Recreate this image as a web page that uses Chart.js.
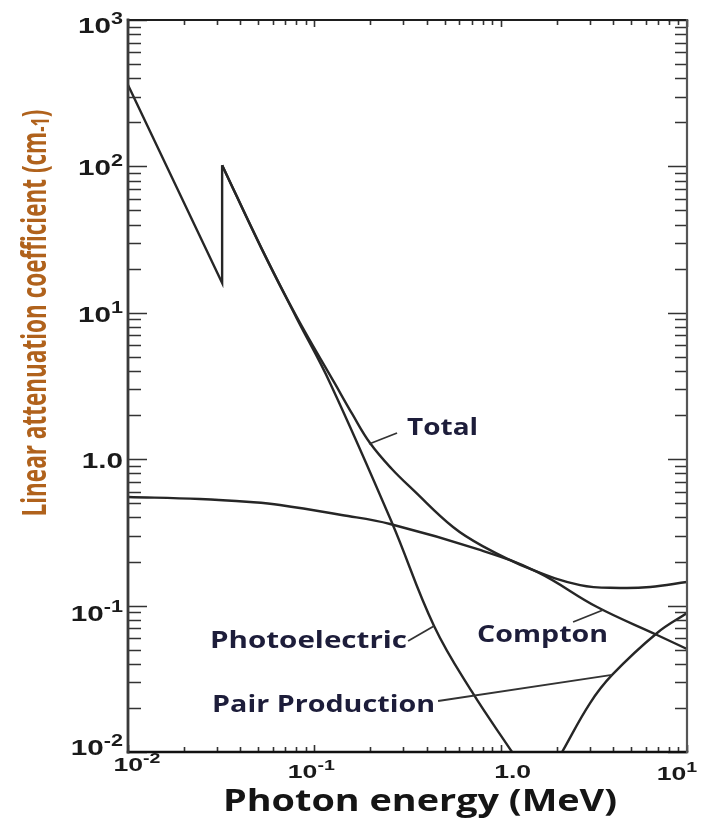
<!DOCTYPE html>
<html>
<head>
<meta charset="utf-8">
<script src="https://cdn.jsdelivr.net/npm/chart.js@4.4.1/dist/chart.umd.min.js"></script>
<style>
  html, body { margin: 0; padding: 0; background: #fff; }
  #wrap { width: 702px; height: 827px; position: relative; }
</style>
</head>
<body>
<div id="wrap"><canvas id="chart"></canvas></div>
<script>
// Photon energy (MeV) and linear attenuation coefficient (cm^-1) for each process
const totalLowEnergy = [0.01, 0.032, 0.032];
const totalLow       = [360, 16.0, 102];

const totalEnergy = [0.032, 0.0524, 0.08, 0.129, 0.16, 0.199, 0.26, 0.339, 0.555, 0.80, 1.44, 2.67, 4.38, 6.34, 10];
const total       = [102, 27.2, 9.5, 3.28, 2.03, 1.29, 0.86, 0.617, 0.344, 0.255, 0.178, 0.138, 0.132, 0.134, 0.145];

const photoEnergy = [0.032, 0.0524, 0.08, 0.1214, 0.2613, 0.439, 0.7023, 1.151];
const photo       = [102, 27.0, 9.3, 3.32, 0.367, 0.0726, 0.0257, 0.01];

const comptonEnergy = [0.01, 0.0243, 0.0452, 0.0654, 0.14, 0.255, 0.775, 1.568, 3.293, 6.91, 10];
const compton       = [0.552, 0.535, 0.510, 0.487, 0.416, 0.361, 0.240, 0.170, 0.0978, 0.063, 0.0505];

const pairEnergy = [2.136, 3.019, 3.963, 6.91, 10];
const pair       = [0.01, 0.0216, 0.0336, 0.065, 0.089];

// Axis tick values and their labels (base, exponent)
const xTickValues = [0.01, 0.1, 1, 10];
const xTickLabels = [['10', '-2'], ['10', '-1'], ['1.0', ''], ['10', '1']];
const yTickValues = [0.01, 0.1, 1, 10, 100, 1000];
const yTickLabels = [['10', '-2'], ['10', '-1'], ['1.0', ''], ['10', '1'], ['10', '2'], ['10', '3']];

const curveNames = ['Total', 'Photoelectric', 'Compton', 'Pair Production'];

const toPoints = (xs, ys) => xs.map((v, i) => ({ x: v, y: ys[i] }));

// Curve labels: text anchor (left/baseline) and leader line, in data units
const callouts = [
  { name: curveNames[0], at: [0.3145, 1.463], width: 71,  leader: [[0.2779, 1.51], [0.1966, 1.27]] },
  { name: curveNames[1], at: [0.02755, 0.0513], width: 197, leader: [[0.3185, 0.0573], [0.439, 0.0726]] },
  { name: curveNames[2], at: [0.7468, 0.0564], width: 131, leader: [[2.447, 0.0773], [3.546, 0.0933]] },
  { name: curveNames[3], at: [0.02825, 0.01876], width: 223, leader: [[0.4613, 0.0223], [3.963, 0.0336]] }
];

const LINE = '#262626';
const LABEL_FONT = '"Open Sans", "Noto Sans", sans-serif';
const TICK_FONT = '"Liberation Sans", Arial, sans-serif';

function drawRuns(ctx, runs, x, y, align, sx, sy) {
  sy = sy || 1;
  ctx.save();
  const widths = runs.map(r => { ctx.font = r.font; return ctx.measureText(r.text).width; });
  const natural = widths.reduce((s, w) => s + w, 0);
  const start = align === 'right' ? x - natural * sx : align === 'center' ? x - natural * sx / 2 : x;
  ctx.translate(start, y);
  ctx.scale(sx, sy);
  let cx = 0;
  runs.forEach((r, i) => {
    ctx.font = r.font;
    ctx.fillStyle = r.color;
    ctx.fillText(r.text, cx, r.dy || 0);
    cx += widths[i];
  });
  ctx.restore();
}

function naturalWidth(ctx, runs) {
  let w = 0;
  ctx.save();
  runs.forEach(r => { ctx.font = r.font; w += ctx.measureText(r.text).width; });
  ctx.restore();
  return w;
}

const axesPlugin = {
  id: 'axesPlugin',
  beforeDraw(chart) {
    const { ctx, width, height } = chart;
    ctx.save();
    ctx.fillStyle = '#fff';
    ctx.fillRect(0, 0, width, height);
    ctx.restore();
  },
  afterDatasetsDraw(chart) {
    const { ctx, chartArea: a, scales: { x, y } } = chart;
    ctx.save();
    ctx.textBaseline = 'alphabetic';

    // inward tick marks on all four sides
    ctx.strokeStyle = '#333';
    ctx.lineWidth = 1.6;
    ctx.beginPath();
    for (let e = -2; e <= 1; e++) {
      for (let k = 1; k <= 9; k++) {
        const v = k * Math.pow(10, e);
        if (v < 0.00999 || v > 10.001) continue;
        const px = Math.round(x.getPixelForValue(v)) + 0.5;
        const len = k === 1 ? 7 : 5;
        ctx.moveTo(px, a.bottom); ctx.lineTo(px, a.bottom - len);
        ctx.moveTo(px, a.top); ctx.lineTo(px, a.top + len);
      }
    }
    for (let e = -2; e <= 3; e++) {
      for (let k = 1; k <= 9; k++) {
        const v = k * Math.pow(10, e);
        if (v < 0.00999 || v > 1000.01) continue;
        const py = Math.round(y.getPixelForValue(v)) + 0.5;
        ctx.moveTo(a.left, py); ctx.lineTo(a.left + (k === 1 ? 19 : 13), py);
        ctx.moveTo(a.right, py); ctx.lineTo(a.right - (k === 1 ? 19 : 12), py);
      }
    }
    ctx.stroke();

    // frame
    ctx.lineCap = 'square';
    const side = (x1, y1, x2, y2, w, c) => {
      ctx.strokeStyle = c; ctx.lineWidth = w;
      ctx.beginPath(); ctx.moveTo(x1, y1); ctx.lineTo(x2, y2); ctx.stroke();
    };
    side(a.left, a.top, a.right, a.top, 2.2, '#1e1e1e');
    side(a.left, a.bottom, a.right, a.bottom, 2.4, '#111');
    side(a.left, a.top, a.left, a.bottom, 2.8, '#3a3a3a');
    side(a.right, a.top, a.right, a.bottom, 2.2, '#555');

    // y tick labels
    const yNudge = [3, 15, 9, 9, 9, 13];
    yTickValues.forEach((v, i) => {
      const [base, sup] = yTickLabels[i];
      const py = y.getPixelForValue(v) + yNudge[i];
      drawRuns(ctx, [
        { text: base, font: 'bold 22px ' + TICK_FONT, color: '#1a1a1a' },
        { text: sup, font: 'bold 16px ' + TICK_FONT, color: '#1a1a1a', dy: -9 }
      ], a.left - 5, py, 'right', 1.35);
    });

    // x tick labels
    const xShift = [9, -3, 12, -10];
    const xDrop = [19, 26, 26, 28];
    xTickValues.forEach((v, i) => {
      const [base, sup] = xTickLabels[i];
      const px = x.getPixelForValue(v) + xShift[i];
      drawRuns(ctx, [
        { text: base, font: 'bold 19px ' + TICK_FONT, color: '#1a1a1a' },
        { text: sup, font: 'bold 14px ' + TICK_FONT, color: '#1a1a1a', dy: -8 }
      ], px, a.bottom + xDrop[i], 'center', 1.4);
    });

    // leader lines and curve names
    ctx.strokeStyle = '#333';
    ctx.lineWidth = 1.8;
    ctx.lineCap = 'butt';
    callouts.forEach(c => {
      const [p, q] = c.leader;
      ctx.beginPath();
      ctx.moveTo(x.getPixelForValue(p[0]), y.getPixelForValue(p[1]));
      ctx.lineTo(x.getPixelForValue(q[0]), y.getPixelForValue(q[1]));
      ctx.stroke();
      const runs = [{ text: c.name, font: 'bold 23px ' + LABEL_FONT, color: '#1d1d3a' }];
      const sx = c.width / naturalWidth(ctx, runs);
      drawRuns(ctx, runs, x.getPixelForValue(c.at[0]), y.getPixelForValue(c.at[1]), 'left', sx);
    });

    // x axis title
    const xt = [{ text: 'Photon energy (MeV)', font: 'bold 30px ' + LABEL_FONT, color: '#151515' }];
    drawRuns(ctx, xt, a.left + 95, a.bottom + 59, 'left', 394 / naturalWidth(ctx, xt));

    // y axis title (rotated), with the exponent set smaller
    const yt = [
      { text: 'Linear attenuation coefficient (cm', font: 'bold 26px ' + LABEL_FONT, color: '#b0621c' },
      { text: '-1', font: 'bold 19px ' + LABEL_FONT, color: '#b0621c', dy: 2 },
      { text: ')', font: 'bold 26px ' + LABEL_FONT, color: '#b0621c' }
    ];
    ctx.save();
    ctx.translate(46, (a.top + a.bottom) / 2 - 73);
    ctx.rotate(-Math.PI / 2);
    drawRuns(ctx, yt, 0, 0, 'center', 407 / naturalWidth(ctx, yt), 1.3);
    ctx.restore();

    ctx.restore();
  }
};

const lineStyle = {
  borderColor: LINE,
  borderWidth: 2.4,
  pointRadius: 0,
  fill: false,
  tension: 0.4
};

function build() {
  new Chart(document.getElementById('chart'), {
    type: 'line',
    data: {
      datasets: [
        { label: curveNames[0], data: toPoints(totalLowEnergy, totalLow), ...lineStyle, tension: 0 },
        { label: curveNames[0], data: toPoints(totalEnergy, total), ...lineStyle },
        { label: curveNames[1], data: toPoints(photoEnergy, photo), ...lineStyle },
        { label: curveNames[2], data: toPoints(comptonEnergy, compton), ...lineStyle },
        { label: curveNames[3], data: toPoints(pairEnergy, pair), ...lineStyle }
      ]
    },
    options: {
      responsive: true,
      maintainAspectRatio: false,
      animation: false,
      layout: { padding: { left: 128, right: 15, top: 20, bottom: 75 } },
      plugins: { legend: { display: false }, tooltip: { enabled: false }, title: { display: false } },
      scales: {
        x: { type: 'logarithmic', min: 0.01, max: 10, display: false },
        y: { type: 'logarithmic', min: 0.01, max: 1000, display: false }
      }
    },
    plugins: [axesPlugin]
  });
}

const fontLoads = [
  'bold 23px "Open Sans"', 'bold 22px "Liberation Sans"'
].map(f => document.fonts.load(f).catch(() => null));
Promise.race([Promise.all(fontLoads), new Promise(r => setTimeout(r, 1500))]).then(build);
</script>
</body>
</html>
